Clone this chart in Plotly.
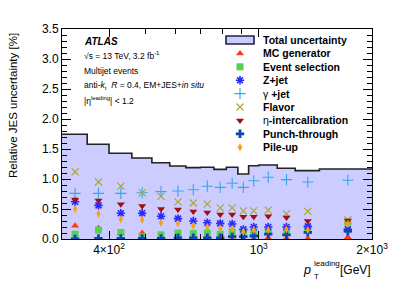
import plotly.graph_objects as go

# ---------------- data ----------------
bin_edges = [300, 350, 400, 460, 520, 580, 640, 700, 760, 820, 880, 940, 1000, 1120, 1250, 1450, 2000]
total_unc = [1.745, 1.58, 1.43, 1.35, 1.27, 1.217, 1.19, 1.195, 1.16, 1.195, 1.083, 1.22, 1.233, 1.18, 1.14, 1.167]
mc_generator = [0.22, 0.18, 0.09, 0.10, 0.03, 0.04, 0.05, 0.04, 0.03, 0.04, 0.00, 0.00, 0.02, 0.01, 0.01, 0.03]
event_selection = [0.08, 0.15, 0.11, 0.04, 0.07, 0.10, 0.09, 0.10, 0.08, 0.12, 0.10, 0.10, 0.13, 0.13, 0.15, 0.28]
z_jet = [0.62, 0.56, 0.43, 0.43, 0.38, 0.34, 0.30, 0.27, 0.26, 0.25, 0.16, 0.20, 0.20, 0.20, 0.21, 0.16]
gamma_jet = [0.76, 0.76, 0.76, 0.77, 0.79, 0.80, 0.82, 0.88, 0.86, 0.93, 0.86, 0.97, 1.03, 0.99, 0.95, 0.98]
flavor = [1.12, 0.95, 0.88, 0.77, 0.71, 0.62, 0.60, 0.58, 0.52, 0.52, 0.47, 0.47, 0.48, 0.42, 0.46, 0.32]
eta_intercal = [0.66, 0.64, 0.58, 0.55, 0.50, 0.49, 0.46, 0.44, 0.41, 0.41, 0.37, 0.37, 0.38, 0.36, 0.30, 0.31]
punch_through = [0.00, 0.01, 0.01, 0.01, 0.01, 0.02, 0.02, 0.02, 0.02, 0.04, 0.04, 0.05, 0.08, 0.07, 0.11, 0.13]
pile_up = [0.50, 0.42, 0.33, 0.32, 0.27, 0.26, 0.22, 0.20, 0.18, 0.17, 0.12, 0.15, 0.15, 0.16, 0.15, 0.25]

x_tickvals = [400, 1000, 2000]
x_ticktext = ["4×10<sup>2</sup>", "10<sup>3</sup>", "2×10<sup>3</sup>"]
x_minor = [300, 500, 600, 700, 800, 900]

FONT = "Liberation Sans, Arial, sans-serif"
centers = [(a + b) / 2 for a, b in zip(bin_edges[:-1], bin_edges[1:])]

# name, values, symbol, color, size, linewidth
series = [
    ("MC generator", mc_generator, "triangle-up", "#ff3a10", 7, 0),
    ("Event selection", event_selection, "square", "#55d055", 7, 0),
    ("Z+jet", z_jet, "asterisk-open", "#2a2aff", 7, 1.6),
    ("γ +jet", gamma_jet, "cross-thin-open", "#30a8f0", 8, 1.1),
    ("Flavor", flavor, "x-thin-open", "#a8a830", 7, 1.2),
    ("η-intercalibration", eta_intercal, "triangle-down", "#a01010", 7, 0),
    ("Punch-through", punch_through, "cross", "#0a4ab0", 7, 0),
    ("Pile-up", pile_up, "diamond-tall", "#f5a020", 6, 0),
]

fig = go.Figure()

# total uncertainty step histogram
fig.add_trace(go.Scatter(
    x=bin_edges, y=total_unc + [total_unc[-1]],
    mode="lines", line=dict(shape="hv", color="#222222", width=1.6),
    fill="tozeroy", fillcolor="#ccccff", showlegend=False, hoverinfo="skip"))

for name, vals, sym, col, sz, lw in series:
    mk = dict(symbol=sym, color=col, size=sz)
    mk["line"] = dict(color=col, width=lw) if lw else dict(width=0)
    fig.add_trace(go.Scatter(x=centers, y=vals, mode="markers", marker=mk,
                             showlegend=False, name=name))

# ---------------- manual legend ----------------
def px2x(px):
    return (px - 62) / 310.0

def py2y(py):
    return (239 - py) / 210.0

row0 = 40.0
dy = 13.4
annotations = []
shapes = []
shapes.append(dict(type="rect", xref="paper", yref="paper",
                   x0=px2x(226), x1=px2x(254), y0=py2y(44), y1=py2y(36),
                   fillcolor="#ccccff", line=dict(color="#222244", width=1.6)))
annotations.append(dict(text="<b>Total uncertainty</b>", x=px2x(261), y=py2y(row0),
                        xref="paper", yref="paper", xanchor="left", yanchor="middle",
                        showarrow=False, font=dict(size=10.5, family=FONT, color="black")))
for i, (name, vals, sym, col, sz, lw) in enumerate(series):
    yy = py2y(row0 + dy * (i + 1))
    mk = dict(symbol=sym, color=col, size=sz)
    mk["line"] = dict(color=col, width=lw) if lw else dict(width=0)
    fig.add_trace(go.Scatter(x=[px2x(240)], y=[yy], mode="markers", marker=mk,
                             xaxis="x2", yaxis="y2", showlegend=False, hoverinfo="skip"))
    if name.startswith("γ"):
        txt = "γ <b>+jet</b>"
    elif name.startswith("η"):
        txt = "η<b>-intercalibration</b>"
    else:
        txt = "<b>" + name + "</b>"
    annotations.append(dict(text=txt, x=px2x(261), y=yy, xref="paper", yref="paper",
                            xanchor="left", yanchor="middle", showarrow=False,
                            font=dict(size=10.5, family=FONT, color="black")))

# ATLAS labels
info = [
    ("<b><i>ATLAS</i></b>", 41, 10),
    ("√s = 13 TeV, 3.2 fb<sup>-1</sup>", 55, 8.5),
    ("Multijet events", 71, 8.5),
    ("anti-<i>k</i><sub>t</sub>  <i>R</i> = 0.4, EM+JES+<i>in situ</i>", 85, 8.5),
    ("|η<sup>leading</sup>| < 1.2", 100, 8.5),
]
for txt, py, fs in info:
    annotations.append(dict(text=txt, x=px2x(82), y=py2y(py), xref="paper", yref="paper",
                            xanchor="left", yanchor="middle", showarrow=False,
                            font=dict(size=fs, family=FONT, color="black")))

annotations.append(dict(text="Relative JES uncertainty [%]", textangle=-90,
                        x=px2x(13), y=py2y(106), xref="paper", yref="paper",
                        xanchor="center", yanchor="middle", showarrow=False,
                        font=dict(size=11.5, family=FONT, color="black")))
annotations += [
    dict(text="<i>p</i>", x=px2x(313), y=py2y(270), xanchor="right", yanchor="middle",
         xref="paper", yref="paper", showarrow=False, font=dict(size=12.5, family=FONT, color="black")),
    dict(text="leading", x=px2x(312), y=py2y(263), xanchor="left", yanchor="middle",
         xref="paper", yref="paper", showarrow=False, font=dict(size=8, family=FONT, color="black")),
    dict(text="T", x=px2x(312), y=py2y(276), xanchor="left", yanchor="middle",
         xref="paper", yref="paper", showarrow=False, font=dict(size=8, family=FONT, color="black")),
    dict(text="[GeV]", x=px2x(373), y=py2y(270), xanchor="right", yanchor="middle",
         xref="paper", yref="paper", showarrow=False, font=dict(size=12, family=FONT, color="black")),
]

fig.update_layout(
    width=415, height=282,
    margin=dict(l=62, r=43, t=29, b=43),
    paper_bgcolor="white", plot_bgcolor="white",
    font=dict(family=FONT, size=12, color="black"),
    showlegend=False,
    xaxis=dict(type="log", range=[2.4771, 3.30103],
               tickmode="array", tickvals=x_tickvals, ticktext=x_ticktext,
               ticks="inside", ticklen=8, tickwidth=1, tickcolor="black",
               showline=True, linecolor="black", linewidth=1, mirror="allticks",
               showgrid=False, zeroline=False, tickfont=dict(size=12),
               minor=dict(tickmode="array", tickvals=x_minor, ticks="inside",
                          ticklen=5, tickcolor="black", showgrid=False)),
    yaxis=dict(range=[0, 3.5], tickmode="linear", tick0=0, dtick=0.5, tickformat=".1f",
               ticks="inside", ticklen=9, tickwidth=1, tickcolor="black",
               showline=True, linecolor="black", linewidth=1, mirror="allticks",
               showgrid=False, zeroline=False, tickfont=dict(size=12),
               minor=dict(dtick=0.1, ticks="inside", ticklen=5, tickcolor="black",
                          showgrid=False)),
    xaxis2=dict(overlaying="x", range=[0, 1], visible=False, fixedrange=True),
    yaxis2=dict(overlaying="y", range=[0, 1], visible=False, fixedrange=True),
    annotations=annotations,
    shapes=shapes,
)

fig.write_html("out.html", config={"displayModeBar": False},
               post_script="document.body.style.margin='0px';document.body.style.overflow='hidden';")
